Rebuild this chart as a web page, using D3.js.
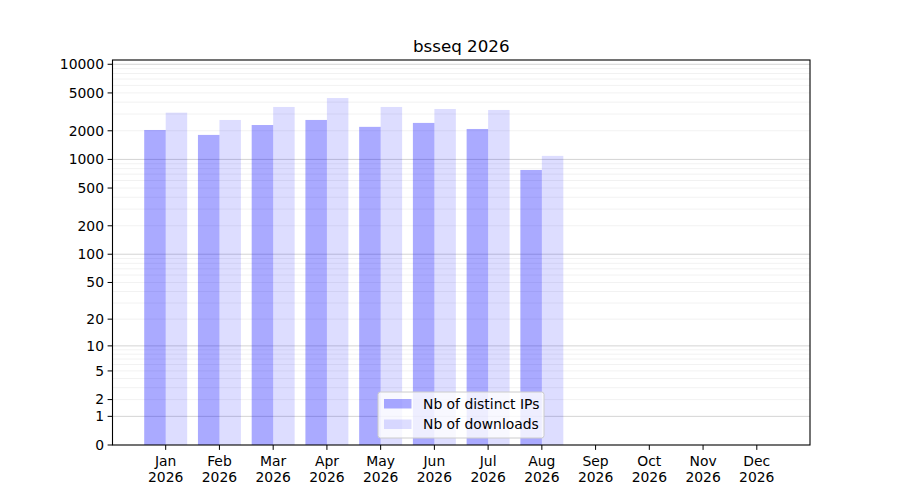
<!DOCTYPE html>
<html><head><meta charset="utf-8">
<script src="https://cdn.jsdelivr.net/npm/d3@7"></script>
<style>body{margin:0;background:#fff}svg{font-family:"DejaVu Sans",sans-serif}</style>
</head><body>
<svg id="c" width="900" height="500"></svg>
<script>
const title = "bsseq 2026";
const months = ["Jan","Feb","Mar","Apr","May","Jun","Jul","Aug","Sep","Oct","Nov","Dec"];
const year = "2026";
const distinctIPs = [2040, 1810, 2300, 2600, 2200, 2420, 2090, 775, null, null, null, null];
const downloads = [3100, 2600, 3560, 4420, 3560, 3390, 3310, 1090, null, null, null, null];
const yTicks = [0, 1, 2, 5, 10, 20, 50, 100, 200, 500, 1000, 2000, 5000, 10000];
const seriesNames = ["Nb of distinct IPs", "Nb of downloads"];

const svg = d3.select("#c");
const L = 112.5, R = 810, T = 60, B = 445;
const f = v => Math.log10(1 + v);
const y = d3.scaleLinear().domain([0, 4.045]).range([B, T]);
const x = d3.scaleLinear().domain([-0.99, 11.99]).range([L, R]);
const yv = v => y(f(v));

// grid
const g = svg.append("g");
const minor = [];
for (let e = 0; e < 4; e++) for (let k = 2; k <= 9; k++) minor.push(k * Math.pow(10, e));
g.selectAll(".mi").data(minor).enter().append("line")
  .attr("x1", L).attr("x2", R).attr("y1", d => yv(d)).attr("y2", d => yv(d))
  .attr("stroke", "#000").attr("stroke-opacity", 0.07).attr("stroke-width", 0.8);
g.selectAll(".ma").data([1, 10, 100, 1000, 10000]).enter().append("line")
  .attr("x1", L).attr("x2", R).attr("y1", d => yv(d)).attr("y2", d => yv(d))
  .attr("stroke", "#000").attr("stroke-opacity", 0.22).attr("stroke-width", 0.8);

// bars
const bw = 0.4;
const bars = svg.append("g");
const blue = "#0000ff";
bars.selectAll(".d").data(distinctIPs.map((v, i) => ({v, i})).filter(d => d.v != null)).enter().append("rect")
  .attr("x", d => x(d.i - bw)).attr("width", d => x(d.i) - x(d.i - bw))
  .attr("y", d => yv(d.v)).attr("height", d => B - yv(d.v))
  .attr("fill", blue).attr("fill-opacity", 0.333);
bars.selectAll(".w").data(downloads.map((v, i) => ({v, i})).filter(d => d.v != null)).enter().append("rect")
  .attr("x", d => x(d.i)).attr("width", d => x(d.i + bw) - x(d.i))
  .attr("y", d => yv(d.v)).attr("height", d => B - yv(d.v))
  .attr("fill", blue).attr("fill-opacity", 0.133);

// frame
svg.append("rect").attr("x", L).attr("y", T).attr("width", R - L).attr("height", B - T)
  .attr("fill", "none").attr("stroke", "#000").attr("stroke-width", 1.1);

// y axis
const ya = svg.append("g");
yTicks.forEach(t => {
  const yy = yv(t);
  ya.append("line").attr("x1", L - 4.9).attr("x2", L).attr("y1", yy).attr("y2", yy).attr("stroke", "#000").attr("stroke-width", 1);
  ya.append("text").attr("x", L - 8.5).attr("y", yy).attr("dy", "0.35em").attr("text-anchor", "end")
    .attr("font-size", 13.9).attr("fill", "#000").text(t);
});

// x axis
const xa = svg.append("g");
months.forEach((m, i) => {
  const xx = x(i);
  xa.append("line").attr("x1", xx).attr("x2", xx).attr("y1", B).attr("y2", B + 4.9).attr("stroke", "#000").attr("stroke-width", 1);
  const t = xa.append("text").attr("x", xx).attr("y", B + 21).attr("text-anchor", "middle").attr("font-size", 13.9).attr("fill", "#000");
  t.append("tspan").attr("x", xx).text(m);
  t.append("tspan").attr("x", xx).attr("dy", 16).text(year);
});

// title
svg.append("text").attr("x", (L + R) / 2).attr("y", 52).attr("text-anchor", "middle")
  .attr("font-size", 16.7).attr("fill", "#000").text(title);

// legend
const lg = svg.append("g").attr("transform", "translate(378,392)");
lg.append("rect").attr("x", 0).attr("y", 0).attr("width", 166).attr("height", 46).attr("rx", 2.5)
  .attr("fill", "#fff").attr("fill-opacity", 0.8).attr("stroke", "#ccc").attr("stroke-width", 1);
const lc = [0.333, 0.133];
seriesNames.forEach((n, i) => {
  lg.append("rect").attr("x", 6).attr("y", 7 + i * 20.5).attr("width", 27.5).attr("height", 9.5)
    .attr("fill", blue).attr("fill-opacity", lc[i]);
  lg.append("text").attr("x", 45).attr("y", 12 + i * 20.5).attr("dy", "0.35em").attr("font-size", 13.9).attr("fill", "#000").text(n);
});
</script>
</body></html>
